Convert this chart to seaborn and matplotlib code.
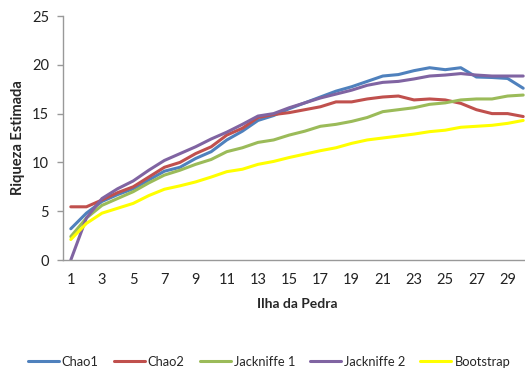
import matplotlib
matplotlib.use("Agg")
import matplotlib.pyplot as plt
import seaborn as sns
import pandas as pd

# Species richness estimators along sampling units (Ilha da Pedra)
samples = list(range(1, 31))
chao1 = [3.2, 4.8, 6.0, 6.7, 7.3, 8.2, 9.1, 9.5, 10.4, 11.1, 12.3, 13.2, 14.3, 14.8, 15.5,
         16.1, 16.7, 17.3, 17.75, 18.3, 18.85, 19.0, 19.4, 19.7, 19.5, 19.7, 18.75, 18.7, 18.6, 17.6]
chao2 = [5.45, 5.45, 6.15, 6.9, 7.5, 8.5, 9.5, 10.0, 10.9, 11.6, 12.8, 13.5, 14.6, 14.9, 15.1,
         15.4, 15.7, 16.2, 16.2, 16.5, 16.7, 16.8, 16.4, 16.5, 16.4, 16.05, 15.4, 15.0, 15.0, 14.7]
jack1 = [2.4, 4.3, 5.6, 6.3, 7.0, 7.9, 8.7, 9.2, 9.8, 10.3, 11.1, 11.5, 12.05, 12.3, 12.8,
         13.2, 13.7, 13.9, 14.2, 14.6, 15.2, 15.4, 15.6, 15.95, 16.1, 16.4, 16.5, 16.5, 16.8, 16.9]
jack2 = [0.0, 4.3, 6.3, 7.3, 8.1, 9.2, 10.2, 10.9, 11.6, 12.4, 13.1, 13.9, 14.75, 15.0, 15.6,
         16.1, 16.6, 17.0, 17.4, 17.9, 18.2, 18.3, 18.55, 18.85, 18.95, 19.1, 18.95, 18.85, 18.85, 18.85]
boot = [2.1, 3.75, 4.8, 5.3, 5.8, 6.6, 7.25, 7.6, 8.0, 8.5, 9.05, 9.3, 9.8, 10.1, 10.5,
        10.85, 11.2, 11.5, 11.95, 12.3, 12.5, 12.7, 12.9, 13.15, 13.3, 13.6, 13.7, 13.8, 14.0, 14.3]

series_names = ["Chao1", "Chao2", "Jackniffe 1", "Jackniffe 2", "Bootstrap"]
series_values = [chao1, chao2, jack1, jack2, boot]
colors = ["#4F81BD", "#C0504D", "#9BBB59", "#8064A2", "#FFFF00"]

x_ticks = list(range(1, 30, 2))
y_ticks = [0, 5, 10, 15, 20, 25]

df = pd.DataFrame({
    "amostra": [s for _ in series_names for s in samples],
    "riqueza": [v for vals in series_values for v in vals],
    "estimador": [n for n in series_names for _ in samples],
})

sns.set_theme(style="white")
plt.rcParams["font.family"] = ["Lato", "DejaVu Sans"]

fig = plt.figure(figsize=(5.25, 3.74), dpi=100)
ax = fig.add_axes([63 / 525, 1 - 260 / 374, 468 / 525, 244 / 374])

sns.lineplot(data=df, x="amostra", y="riqueza", hue="estimador",
             hue_order=series_names, palette=colors, linewidth=2.2,
             ax=ax, legend=True)

ax.set_xlim(0.5, 30.5)
ax.set_ylim(0, 25)
ax.set_xticks(x_ticks)
ax.set_xticklabels([str(t) for t in x_ticks], fontsize=10.5, color="#222222")
ax.set_yticks(y_ticks)
ax.set_yticklabels([str(t) for t in y_ticks], fontsize=10.5, color="#222222")
ax.tick_params(axis="y", length=4, width=1, color="#999999", left=True, pad=6)
ax.tick_params(axis="x", length=0, pad=9)

for side in ("top", "right"):
    ax.spines[side].set_visible(False)
for side in ("left", "bottom"):
    ax.spines[side].set_color("#999999")
    ax.spines[side].set_linewidth(1.0)

ax.set_xlabel("Ilha da Pedra", fontsize=10, fontweight="bold", labelpad=8)
ax.set_ylabel("Riqueza Estimada", fontsize=10.5, fontweight="bold", labelpad=5)

handles, labels = ax.get_legend_handles_labels()
ax.legend_.remove()
fig.legend(handles, labels, loc="center", bbox_to_anchor=(269 / 525, 1 - 362 / 374),
           ncol=5, frameon=False, fontsize=9.3, handlelength=2.4,
           handletextpad=0.25, columnspacing=1.15)

fig.savefig("out.png", dpi=100)
